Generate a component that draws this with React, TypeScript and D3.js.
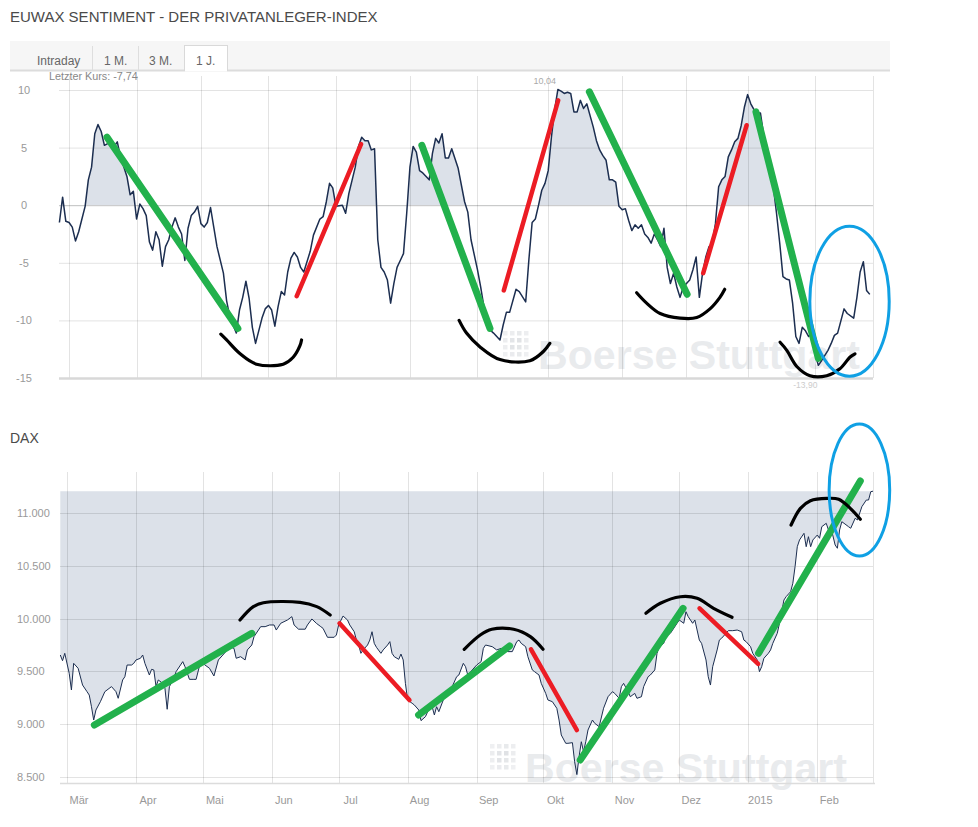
import React from 'react';
import * as d3 from 'd3';

// ---------- DATA ----------
// EUWAX sentiment: [trading-day index since 2014-02-26, value]
const sentiment: [number, number][] = [
  [0,-1.5],[1,0.7],[2,-1.4],[3,-1.5],[4,-1.9],[5,-3.1],[6,-2.3],[7,-1.2],[8,-0.1],[9,2.2],[10,3.3],[11,6.2],[12,7.0],[13,6.4],[14,5.2],[16,5.5],[17,5.1],[18,5.5],[19,4.2],[21,2.5],[22,0.9],[23,1.2],[24,-1.2],[25,0.1],[26,-0.3],[27,-0.9],[28,-3.2],[29,-3.9],[30,-2.3],[31,-3.0],[32,-5.3],[33,-3.6],[34,-3.0],[35,-1.9],[36,-1.1],[37,-1.9],[38,-2.5],[39,-4.8],[40,-2.0],[41,-0.9],[42,-0.6],[43,-0.1],[44,-1.6],[45,-1.9],[46,-1.5],[47,-0.2],[48,-1.9],[49,-3.6],[51,-5.9],[52,-8.3],[53,-9.7],[55,-11.1],[56,-9.1],[57,-8.0],[58,-6.6],[59,-8.1],[60,-10.6],[61,-12.0],[63,-9.8],[64,-9.0],[65,-8.7],[66,-9.1],[67,-10.5],[68,-8.8],[69,-7.5],[70,-7.8],[71,-5.8],[72,-4.6],[73,-4.1],[74,-4.5],[75,-5.4],[76,-5.8],[78,-4.0],[79,-2.6],[81,-1.2],[82,-1.0],[83,0.3],[84,1.9],[85,1.5],[86,-0.1],[88,0.0],[89,-0.7],[90,1.0],[92,3.3],[93,5.1],[94,5.9],[95,5.6],[96,5.6],[97,4.8],[98,4.9],[99,-3.0],[100,-5.4],[101,-5.8],[102,-6.5],[103,-8.5],[104,-6.8],[105,-5.4],[106,-4.8],[107,-4.2],[108,-0.7],[109,3.3],[110,5.1],[111,4.6],[112,3.0],[113,2.8],[115,2.2],[116,4.5],[117,5.8],[118,5.4],[119,6.2],[120,4.1],[121,4.1],[122,4.9],[124,3.2],[126,0.3],[127,-0.6],[128,-3.0],[130,-5.6],[131,-7.1],[132,-8.8],[133,-10.6],[135,-11.1],[137,-11.7],[138,-10.4],[139,-9.3],[140,-9.3],[142,-7.3],[143,-7.5],[145,-8.4],[146,-4.7],[147,-1.5],[148,-1.2],[149,0.0],[150,1.3],[151,1.9],[152,3.0],[153,5.9],[154,8.3],[155,10.04],[156,9.9],[157,9.7],[158,9.8],[159,9.7],[160,8.1],[161,8.1],[162,9.1],[163,8.4],[164,8.8],[165,7.8],[166,6.8],[167,5.6],[168,4.8],[169,4.3],[170,3.9],[171,2.2],[172,2.2],[173,2.0],[174,-0.1],[175,-0.4],[176,-0.3],[177,-1.3],[178,-2.2],[179,-1.7],[180,-2.0],[181,-1.7],[182,-2.5],[183,-2.8],[184,-3.3],[185,-2.5],[186,-3.0],[187,-3.6],[188,-2.0],[189,-5.4],[190,-6.8],[191,-5.9],[192,-7.1],[193,-8.0],[194,-7.1],[196,-6.5],[197,-5.6],[198,-4.5],[199,-8.0],[200,-5.9],[201,-4.5],[202,-3.6],[203,-3.3],[204,-1.6],[205,1.6],[206,2.2],[207,2.5],[208,4.2],[209,4.8],[210,5.5],[211,5.8],[212,6.9],[213,8.5],[214,9.6],[215,8.8],[216,8.3],[217,8.0],[218,8.0],[219,6.1],[220,5.1],[221,3.6],[222,1.6],[223,-0.7],[224,-3.3],[225,-6.2],[226,-6.4],[227,-6.5],[228,-8.5],[229,-11.4],[230,-12.0],[231,-10.6],[232,-10.9],[233,-11.4],[234,-11.1],[235,-12.9],[236,-13.9],[237,-13.5],[239,-12.6],[240,-12.0],[241,-11.3],[242,-11.1],[244,-9.0],[245,-9.4],[247,-9.8],[248,-8.0],[249,-5.8],[250,-4.9],[251,-7.4],[252,-7.74]
];

// DAX close: [calendar days since 2014-02-26, value]
const dax: [number, number][] = [
  [0,9655],[1,9601],[2,9671],[4,9481],[5,9323],[6,9576],[8,9529],[10,9370],[12,9307],[13,9275],[14,9164],[15,9038],[16,9133],[18,9212],[20,9307],[23,9355],[25,9307],[26,9244],[28,9418],[29,9449],[30,9560],[32,9560],[33,9576],[34,9608],[36,9624],[37,9655],[38,9576],[40,9465],[41,9519],[42,9513],[43,9355],[44,9418],[46,9386],[47,9339],[48,9140],[49,9355],[51,9434],[52,9497],[55,9592],[56,9544],[58,9424],[60,9424],[61,9424],[63,9592],[65,9560],[67,9529],[69,9456],[71,9608],[73,9655],[75,9703],[76,9734],[78,9718],[79,9624],[81,9639],[83,9608],[84,9703],[86,9750],[87,9829],[90,9924],[92,9924],[94,9940],[96,9940],[97,9892],[99,9956],[102,9987],[104,10019],[105,9940],[107,9900],[110,9900],[111,9940],[113,9997],[115,9956],[117,9924],[118,9908],[120,9823],[123,9823],[124,9845],[125,9940],[127,10025],[129,9987],[130,9940],[132,9876],[133,9797],[134,9750],[135,9671],[136,9703],[138,9750],[139,9797],[140,9876],[141,9766],[142,9728],[144,9671],[145,9703],[147,9750],[148,9782],[149,9671],[150,9639],[152,9614],[153,9664],[154,9608],[155,9386],[156,9228],[158,9197],[159,9181],[161,9133],[162,9032],[164,9070],[165,9117],[167,9164],[168,9086],[169,9164],[170,9117],[172,9228],[174,9307],[176,9355],[178,9449],[179,9465],[181,9576],[182,9544],[183,9465],[185,9513],[187,9560],[189,9592],[190,9718],[191,9750],[194,9734],[196,9703],[198,9718],[201,9687],[203,9687],[205,9782],[206,9797],[207,9766],[209,9734],[210,9639],[212,9513],[213,9497],[215,9465],[216,9386],[218,9291],[219,9228],[221,9212],[223,9149],[224,9038],[225,8896],[227,8817],[228,8817],[230,8823],[231,8642],[232,8520],[233,8690],[234,8832],[235,8737],[236,8832],[237,8943],[239,9038],[240,9007],[242,8975],[244,9150],[246,9259],[248,9307],[249,9291],[251,9244],[252,9355],[253,9386],[255,9307],[256,9259],[258,9291],[259,9244],[261,9259],[262,9355],[264,9449],[265,9465],[267,9513],[268,9671],[269,9734],[271,9766],[272,9829],[274,9861],[275,9892],[277,9956],[278,9987],[280,9956],[281,10066],[282,10019],[284,9956],[285,9987],[287,9797],[288,9766],[290,9608],[291,9449],[292,9370],[293,9544],[295,9703],[296,9797],[297,9814],[299,9861],[300,9886],[302,9886],[304,9892],[306,9876],[307,9797],[308,9782],[310,9734],[311,9671],[313,9608],[314,9497],[315,9544],[316,9624],[318,9671],[319,9703],[320,9766],[322,9861],[323,9956],[325,10177],[326,10209],[328,10256],[329,10336],[330,10494],[331,10683],[332,10747],[334,10810],[335,10683],[336,10778],[337,10683],[338,10747],[340,10794],[341,10763],[342,10873],[344,10905],[345,10842],[346,10873],[348,10699],[349,10668],[350,10842],[351,10920],[352,10905],[354,10873],[355,10858],[357,10953],[358,10937],[360,11063],[362,11126],[363,11126],[364,11205],[365,11210]
];

const sentYTicks = [10, 5, 0, -5, -10, -15];
const daxYTicks = [8500, 9000, 9500, 10000, 10500, 11000];
const monthLabels = ['Mär', 'Apr', 'Mai', 'Jun', 'Jul', 'Aug', 'Sep', 'Okt', 'Nov', 'Dez', '2015', 'Feb'];
const tabs = ['Intraday', '1 M.', '3 M.', '1 J.'];
const exchangeHolidays = ['2014-04-18', '2014-04-21', '2014-05-01', '2014-12-24', '2014-12-25', '2014-12-26', '2014-12-31', '2015-01-01'];

// hand-drawn annotations (data coordinates)
const sentGreen = [[14.8, 5.9, 55.5, -10.7], [112.7, 5.2, 133.9, -10.7], [164.8, 9.84, 195.2, -7.73], [216.6, 8.1, 236, -13.3]];
const sentRed = [[73.8, -7.9, 93.8, 5.3], [138.2, -7.4, 155.1, 9.1], [200.2, -5.9, 213.7, 6.94]];
const sentArcs: [number, number][][] = [
  [[50.2, -11.2], [52, -11.7], [56.2, -12.9], [61.3, -13.8], [69.6, -13.8], [72.7, -13.2], [74.8, -12.2], [75.3, -11.7]],
  [[124.3, -10.0], [126.6, -11.1], [130.8, -12.3], [137, -13.4], [146.3, -13.5], [150.5, -12.7], [152.5, -12.0]],
  [[179.5, -7.6], [182.6, -8.5], [186.8, -9.4], [193, -9.8], [198.2, -9.75], [202.3, -9.0], [205.4, -8.0], [206.9, -7.3]],
  [[224.1, -11.9], [226.2, -12.6], [229.3, -14.0], [233.4, -14.8], [238.6, -14.8], [242.7, -14.2], [245.8, -13.2], [247.4, -12.9]],
];
const sentEllipse = [245.7, -8.33, 12.34, 6.51];

const daxGreen = [[15.3, 8991, 86, 9861], [160.9, 9086, 201.8, 9741], [233.5, 8659, 279.7, 10098], [313.6, 9671, 359.3, 11307]];
const daxRed = [[125.4, 9956, 156.8, 9228], [211.4, 9709, 232, 8943], [287.1, 10098, 313.4, 9570]];
const daxArcs: [number, number][][] = [
  [[80.7, 9987], [86.7, 10114], [91.2, 10151], [107.7, 10155], [115.2, 10114], [121.2, 10035]],
  [[181.4, 9709], [188.6, 9845], [193.8, 9899], [203.6, 9899], [211.1, 9829], [216.8, 9709]],
  [[263, 10051], [269.5, 10146], [278.5, 10208], [286, 10193], [293.4, 10098], [301.7, 10013]],
  [[328.2, 10889], [332.4, 11047], [336.9, 11120], [344.4, 11142], [349.6, 11133], [354.8, 11047], [359.3, 10943]],
];
const daxEllipse = [358.9, 11221, 13.6, 626];

// ---------- HELPERS ----------
const startDate = new Date(2014, 1, 26);
const endDate = new Date(2015, 1, 26);
const fmtDay = d3.timeFormat('%Y-%m-%d');
const holidaySet = new Set(exchangeHolidays);
const tradingDays = d3.timeDay
  .range(startDate, d3.timeDay.offset(endDate, 1))
  .filter((d) => d.getDay() !== 0 && d.getDay() !== 6 && !holidaySet.has(fmtDay(d)));
const monthStarts = d3.timeMonth.range(new Date(2014, 2, 1), new Date(2015, 1, 2));
const dayToDate = (o: number) => new Date(startDate.getTime() + o * 864e5);
const de = d3.formatLocale({ decimal: ',', thousands: '.', grouping: [3], currency: ['', '€'], minus: '-' });
const fmtThousands = de.format(',.0f');
const fmtVal = de.format('.2f');

const FONT = "'Liberation Sans', Arial, Helvetica, sans-serif";
const LINE = '#1c2e50';
const FILL = '#dce1e9';
const GRID = 'rgba(0,0,0,0.11)';
const GREEN = '#22b14c';
const RED = '#ec1c24';
const BLUE = '#0fa0e4';

function Watermark({ x, y }: { x: number; y: number }) {
  const cells = d3.range(16);
  const shade = [0.5, 0.6, 0.7, 0.55, 0.6, 0.85, 0.95, 0.6, 0.55, 0.9, 0.8, 0.6, 0.5, 0.65, 0.7, 0.5];
  return (
    <g>
      {cells.map((k) => (
        <rect key={k} x={x + (k % 4) * 7} y={y + Math.floor(k / 4) * 7} width={4.5} height={4.5}
          fill="#c4c8ce" opacity={shade[k] * 0.55} />
      ))}
      <text x={x + 35} y={y + 38} fontFamily={FONT} fontWeight="bold" fontSize={40}
        textLength={322} lengthAdjust="spacingAndGlyphs" fill="#cfd3d9" opacity={0.45}>Boerse Stuttgart</text>
    </g>
  );
}

export default function App() {
  // upper chart scales
  const ux = d3.scaleLinear().domain([0, tradingDays.length - 1]).range([59.4, 873]);
  const uy = d3.scaleLinear().domain([-15, 10]).range([378, 90]);
  // lower chart scales
  const lx = d3.scaleTime().domain([startDate, endDate]).range([60.3, 873]);
  const ly = d3.scaleLinear().domain([8500, 11000]).range([776.7, 513.3]);

  const uLine = d3.line<[number, number]>().x((d) => ux(d[0])).y((d) => uy(d[1]));
  const uArea = d3.area<[number, number]>().x((d) => ux(d[0])).y0(uy(0)).y1((d) => uy(d[1]));
  const daxMax = d3.max(dax, (d) => d[1]) as number;
  const lLine = d3.line<[number, number]>().x((d) => lx(dayToDate(d[0]))).y((d) => ly(d[1]));
  const lArea = d3.area<[number, number]>().x((d) => lx(dayToDate(d[0]))).y0(ly(daxMax)).y1((d) => ly(d[1]));

  const firstIdx = monthStarts.map((m) => tradingDays.findIndex((d) => d >= m));
  const arcU = d3.line<[number, number]>().x((d) => ux(d[0])).y((d) => uy(d[1])).curve(d3.curveCatmullRom.alpha(0.5));
  const arcL = d3.line<[number, number]>().x((d) => lx(dayToDate(d[0]))).y((d) => ly(d[1])).curve(d3.curveCatmullRom.alpha(0.5));

  const maxPt = sentiment.reduce((a, b) => (b[1] > a[1] ? b : a));
  const minPt = sentiment.reduce((a, b) => (b[1] < a[1] ? b : a));
  const last = sentiment[sentiment.length - 1];

  const uLeft = 59, uRight = 873;
  const tabX = [37, 104, 149, 196];

  return (
    <div style={{ position: 'absolute', left: 0, top: 0 }}>
      <svg width={978} height={827} style={{ display: 'block', background: '#fff' }}>
        <defs>
          <clipPath id="abovezero">
            <rect x={0} y={0} width={978} height={uy(0)} />
          </clipPath>
        </defs>
        {/* title */}
        <text x={10} y={22} fontFamily={FONT} fontSize={15} fill="#4a4a4a">EUWAX SENTIMENT - DER PRIVATANLEGER-INDEX</text>

        {/* tabs */}
        <rect x={10} y={41} width={880} height={29} fill="#f6f6f6" />
        <line x1={10} x2={890} y1={70.5} y2={70.5} stroke="#dcdcdc" strokeWidth={2} />
        <rect x={184.5} y={45.5} width={43} height={25} fill="#fff" stroke="#d9d9d9" />
        <line x1={185} x2={227} y1={70.5} y2={70.5} stroke="#fff" strokeWidth={2} />
        <line x1={92.5} x2={92.5} y1={46} y2={70} stroke="#dedede" />
        <line x1={138.5} x2={138.5} y1={46} y2={70} stroke="#dedede" />
        {tabs.map((t, i) => (
          <text key={t} x={tabX[i]} y={65} fontFamily={FONT} fontSize={12} fill="#666">{t}</text>
        ))}
        <text x={49} y={80} fontFamily={FONT} fontSize={10.8} fill="#888">Letzter Kurs: {fmtVal(last[1])}</text>

        {/* ===== upper chart ===== */}
        <Watermark x={503} y={331} />
        <path d={uArea(sentiment) || ''} fill={FILL} clipPath="url(#abovezero)" />
        {sentYTicks.filter((t) => t !== -15 && t !== 0).map((t) => (
          <line key={t} x1={uLeft} x2={uRight} y1={uy(t) + 0.5} y2={uy(t) + 0.5} stroke={GRID} />
        ))}
        {firstIdx.map((i, k) => (
          <line key={k} x1={Math.round(ux(i)) + 0.5} x2={Math.round(ux(i)) + 0.5} y1={76} y2={378} stroke={GRID} />
        ))}
        <line x1={uRight + 0.5} x2={uRight + 0.5} y1={76} y2={378} stroke={GRID} />
        <line x1={uLeft} x2={uRight} y1={uy(0) + 0.5} y2={uy(0) + 0.5} stroke="rgba(0,0,0,0.24)" />
        <line x1={uLeft} x2={uRight} y1={uy(-15) + 0.5} y2={uy(-15) + 0.5} stroke="#d8d8d8" strokeWidth={2.5} />
        <path d={uLine(sentiment) || ''} fill="none" stroke={LINE} strokeWidth={1.5} strokeLinejoin="round" />
        {sentYTicks.map((t) => (
          <text key={t} x={24} y={uy(t) + 4} textAnchor="middle" fontFamily={FONT} fontSize={11} fill="#999">{t}</text>
        ))}
        <text x={ux(maxPt[0]) - 13} y={84} textAnchor="middle" fontFamily={FONT} fontSize={9} fill="#aaa">{fmtVal(maxPt[1])}</text>
        <text x={ux(minPt[0]) - 13} y={388} textAnchor="middle" fontFamily={FONT} fontSize={8.5} fill="#cccccc">{fmtVal(minPt[1])}</text>

        {/* ===== lower chart ===== */}
        <text x={10} y={443} fontFamily={FONT} fontSize={14} fill="#4a4a4a">DAX</text>
        <path d={lArea(dax) || ''} fill={FILL} />
        <Watermark x={490} y={744} />
        {daxYTicks.map((t) => (
          <line key={t} x1={60} x2={873} y1={Math.round(ly(t)) + 0.5} y2={Math.round(ly(t)) + 0.5} stroke={GRID} />
        ))}
        {monthStarts.map((m, k) => (
          <line key={k} x1={Math.round(lx(m)) + 0.5} x2={Math.round(lx(m)) + 0.5} y1={472} y2={783} stroke={GRID} />
        ))}
        <line x1={873.5} x2={873.5} y1={472} y2={783} stroke={GRID} />
        <line x1={60} x2={875} y1={783.5} y2={783.5} stroke="#dcdcdc" strokeWidth={1.5} />
        <path d={lLine(dax) || ''} fill="none" stroke={LINE} strokeWidth={1} strokeLinejoin="round" />
        {daxYTicks.map((t) => (
          <text key={t} x={17} y={ly(t) + 4} fontFamily={FONT} fontSize={11} fill="#999">{fmtThousands(t)}</text>
        ))}
        {monthStarts.map((m, k) => (
          <text key={k} x={lx(m) + 12} y={804} textAnchor="middle" fontFamily={FONT} fontSize={11} fill="#999">{monthLabels[k]}</text>
        ))}

        {/* ===== annotations ===== */}
        {sentGreen.map((s, k) => (
          <line key={'ug' + k} x1={ux(s[0])} y1={uy(s[1])} x2={ux(s[2])} y2={uy(s[3])} stroke={GREEN} strokeWidth={7} strokeLinecap="round" />
        ))}
        {sentRed.map((s, k) => (
          <line key={'ur' + k} x1={ux(s[0])} y1={uy(s[1])} x2={ux(s[2])} y2={uy(s[3])} stroke={RED} strokeWidth={4.5} strokeLinecap="round" />
        ))}
        {sentArcs.map((a, k) => (
          <path key={'ua' + k} d={arcU(a) || ''} fill="none" stroke="#000" strokeWidth={3.2} strokeLinecap="round" />
        ))}
        <ellipse cx={ux(sentEllipse[0])} cy={uy(sentEllipse[1])}
          rx={ux(sentEllipse[0] + sentEllipse[2]) - ux(sentEllipse[0])}
          ry={uy(sentEllipse[1] - sentEllipse[3]) - uy(sentEllipse[1])}
          fill="none" stroke={BLUE} strokeWidth={3} />

        {daxGreen.map((s, k) => (
          <line key={'lg' + k} x1={lx(dayToDate(s[0]))} y1={ly(s[1])} x2={lx(dayToDate(s[2]))} y2={ly(s[3])} stroke={GREEN} strokeWidth={7} strokeLinecap="round" />
        ))}
        {daxRed.map((s, k) => (
          <line key={'lr' + k} x1={lx(dayToDate(s[0]))} y1={ly(s[1])} x2={lx(dayToDate(s[2]))} y2={ly(s[3])} stroke={RED} strokeWidth={4.5} strokeLinecap="round" />
        ))}
        {daxArcs.map((a, k) => (
          <path key={'la' + k} d={arcL(a) || ''} fill="none" stroke="#000" strokeWidth={3.2} strokeLinecap="round" />
        ))}
        <ellipse cx={lx(dayToDate(daxEllipse[0]))} cy={ly(daxEllipse[1])}
          rx={lx(dayToDate(daxEllipse[0] + daxEllipse[2])) - lx(dayToDate(daxEllipse[0]))}
          ry={ly(daxEllipse[1] - daxEllipse[3]) - ly(daxEllipse[1])}
          fill="none" stroke={BLUE} strokeWidth={3} />
      </svg>
    </div>
  );
}
